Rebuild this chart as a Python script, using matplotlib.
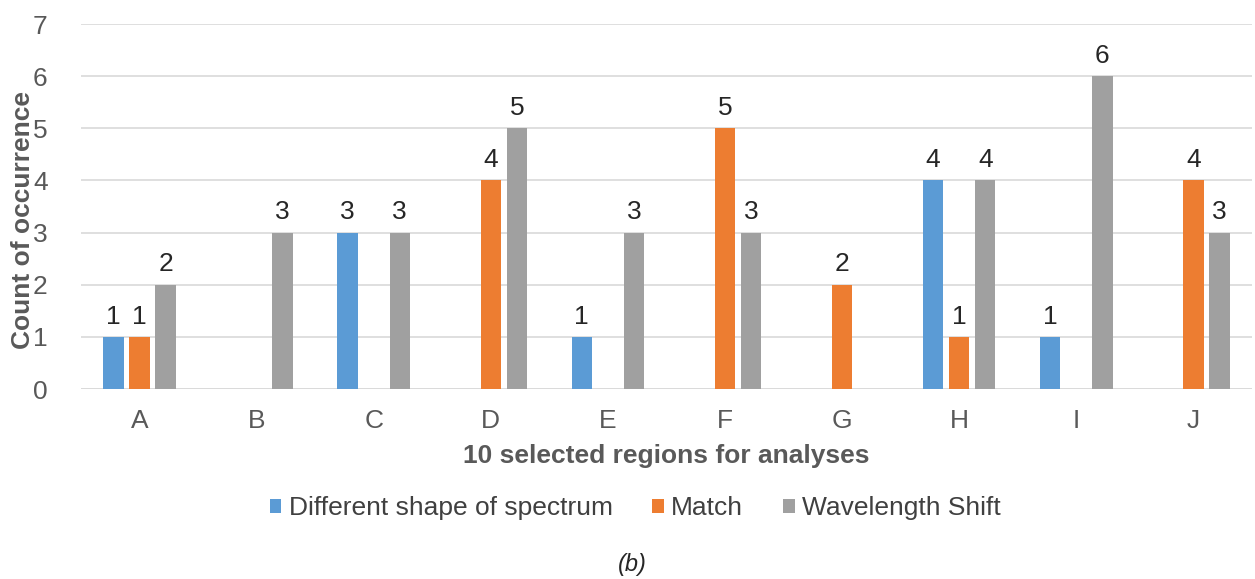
import numpy as np
import matplotlib.pyplot as plt

plt.rcParams['font.family'] = ['Liberation Sans', 'DejaVu Sans']

regions = ['A', 'B', 'C', 'D', 'E', 'F', 'G', 'H', 'I', 'J']
different_shape = [1, 0, 3, 0, 1, 0, 0, 4, 1, 0]
match = [1, 0, 0, 4, 0, 5, 2, 1, 0, 4]
wavelength_shift = [2, 3, 3, 5, 3, 3, 0, 4, 6, 3]

series = [
    ('Different shape of spectrum', different_shape, '#5B9BD5'),
    ('Match', match, '#ED7D31'),
    ('Wavelength Shift', wavelength_shift, '#A0A0A0'),
]

fig = plt.figure(figsize=(12.55, 5.79), dpi=100)
ax = fig.add_axes([0.0645, 0.328, 0.933, 0.6305])

x = np.arange(len(regions))
width = 0.175
step = 0.223
for i, (name, vals, color) in enumerate(series):
    pos = x + (i - 1) * step
    bars = ax.bar(pos, vals, width, color=color, label=name, zorder=3)
    for b, v in zip(bars, vals):
        if v > 0:
            ax.annotate(str(v), (b.get_x() + b.get_width() / 2, v),
                        xytext=(0, 6), textcoords='offset points',
                        ha='center', va='bottom', fontsize=19, color='#262626')

ax.set_xlim(-0.5, len(regions) - 0.5)
ax.set_ylim(0, 7)
ax.set_yticks(range(0, 8))
ax.set_xticks(x)
ax.set_xticklabels(regions)
ax.tick_params(axis='both', length=0, labelsize=19, labelcolor='#595959')
ax.tick_params(axis='x', pad=14)
ax.tick_params(axis='y', pad=24)
ax.grid(axis='y', color='#D9D9D9', linewidth=1.2, zorder=0)
for s in ax.spines.values():
    s.set_visible(False)
ax.axhline(0, color='#D9D9D9', linewidth=1.2, zorder=1)

ax.set_xlabel('10 selected regions for analyses', fontsize=19, fontweight='bold',
              color='#595959', labelpad=8)
ax.set_ylabel('Count of occurrence', fontsize=19, fontweight='bold',
              color='#595959')
ax.yaxis.set_label_coords(-0.039, 0.463)

fig.legend(loc='center', bbox_to_anchor=(0.506, 0.122), ncol=3, frameon=False,
           fontsize=19, handlelength=0.45, handleheight=0.45, handletextpad=0.27,
           columnspacing=1.5, labelcolor='#404040')

fig.text(0.504, 0.025, '(b)', ha='center', va='center', fontsize=17,
         style='italic', color='#262626')

fig.savefig('out.png', dpi=100)
